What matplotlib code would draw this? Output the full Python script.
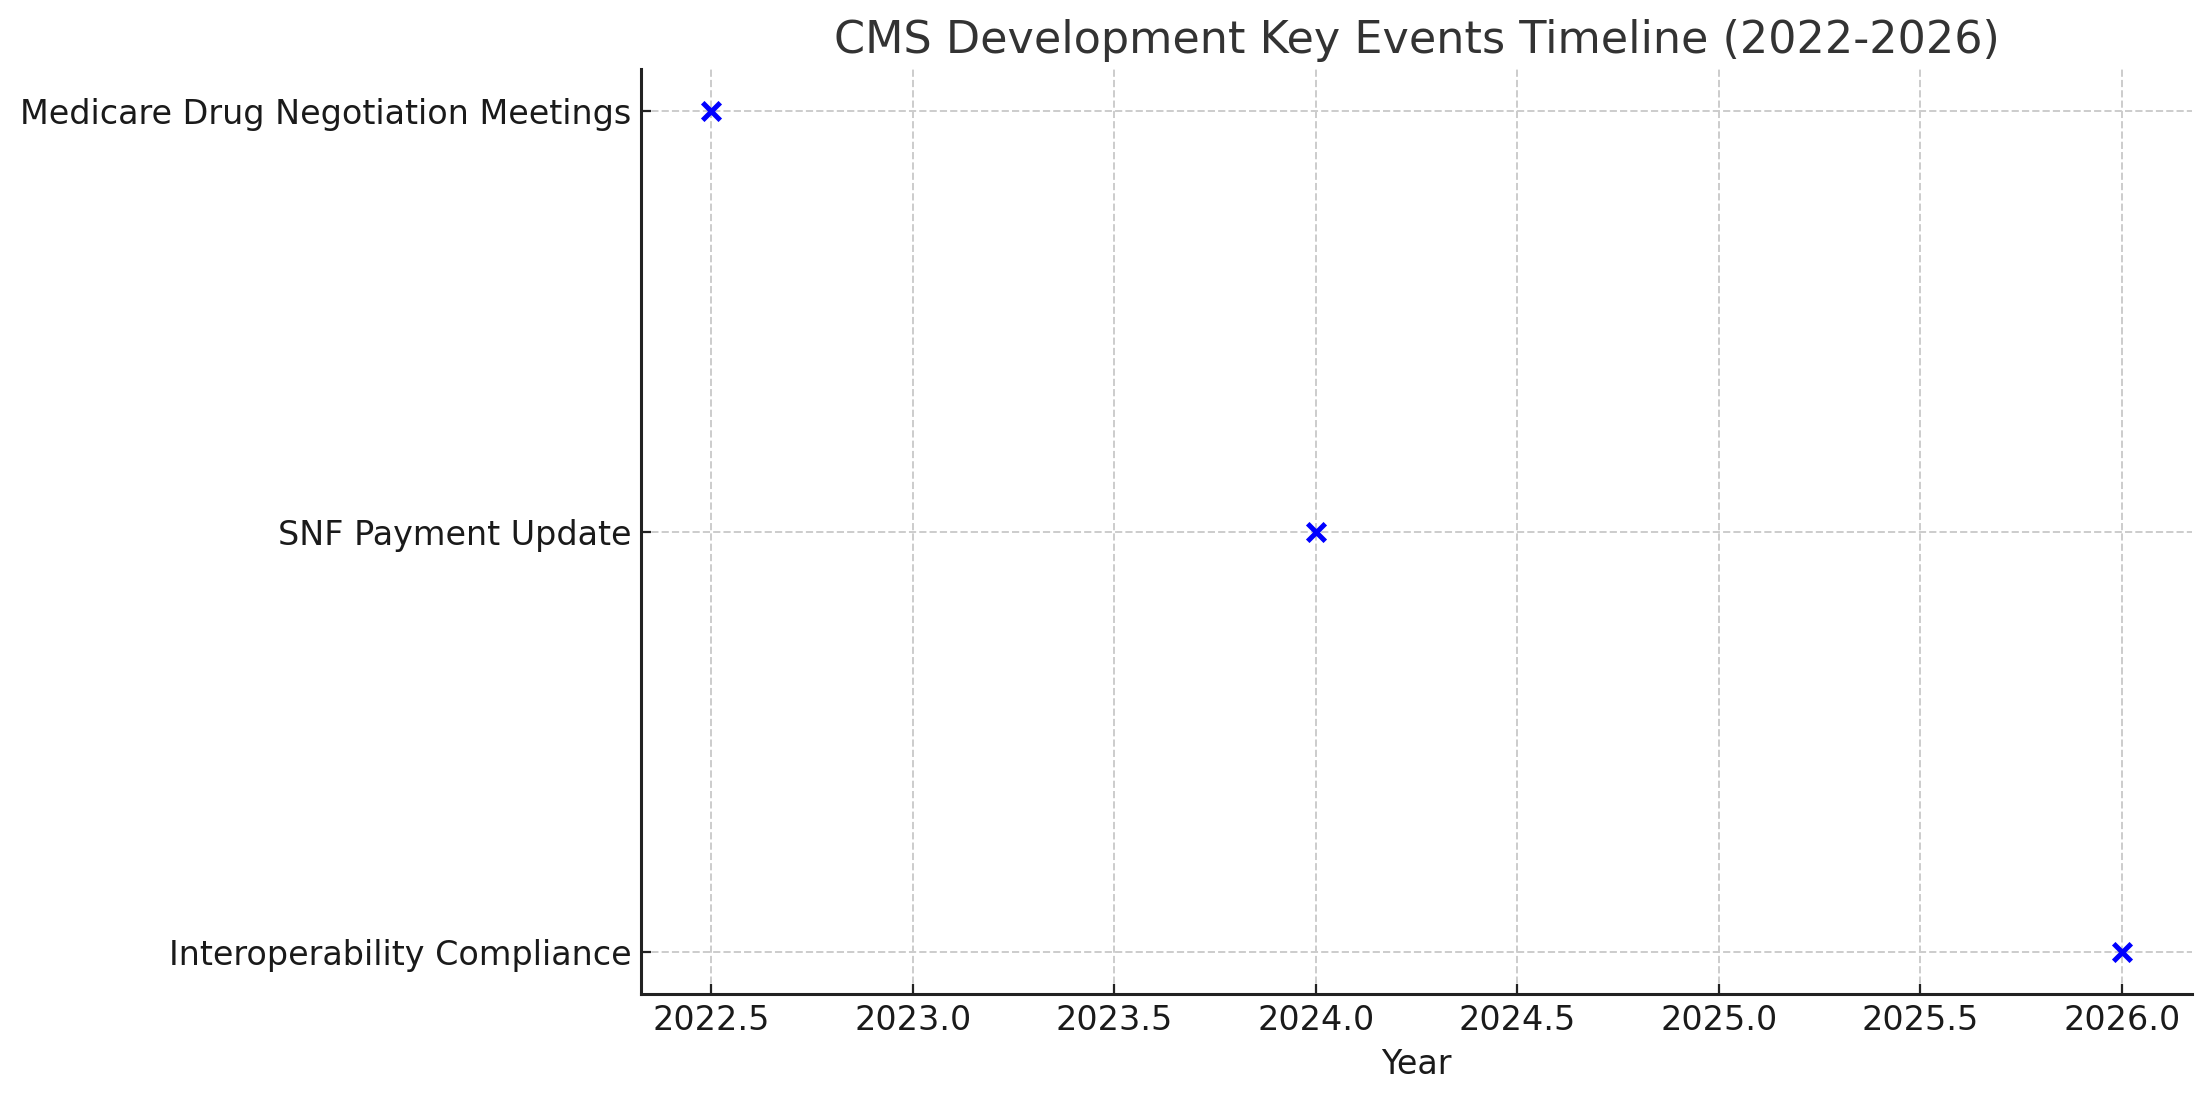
import matplotlib
matplotlib.use("Agg")
import matplotlib.pyplot as plt

# event data
events = ["Medicare Drug Negotiation Meetings", "SNF Payment Update", "Interoperability Compliance"]
years = [2022.5, 2024.0, 2026.0]

fig, ax = plt.subplots(figsize=(11.05, 5.505), dpi=200)
fig.subplots_adjust(left=0.290, right=0.992, top=0.937, bottom=0.097)

ax.scatter(years, events, marker="x", color="blue", s=40, linewidths=1.8, zorder=3)
ax.invert_yaxis()

ax.set_title("CMS Development Key Events Timeline (2022-2026)", fontsize=16, color="#333333")
ax.set_xlabel("Year", fontsize=12, color="#1a1a1a")
ax.tick_params(direction="in", labelsize=12, labelcolor="#1a1a1a", color="#222222")
ax.grid(True, linestyle="--", color="#cccccc", linewidth=0.7)
ax.set_axisbelow(True)

for side in ["top", "right"]:
    ax.spines[side].set_visible(False)
for side in ["left", "bottom"]:
    ax.spines[side].set_color("#222222")
    ax.spines[side].set_linewidth(1.1)

fig.savefig("out.png", dpi=200)
